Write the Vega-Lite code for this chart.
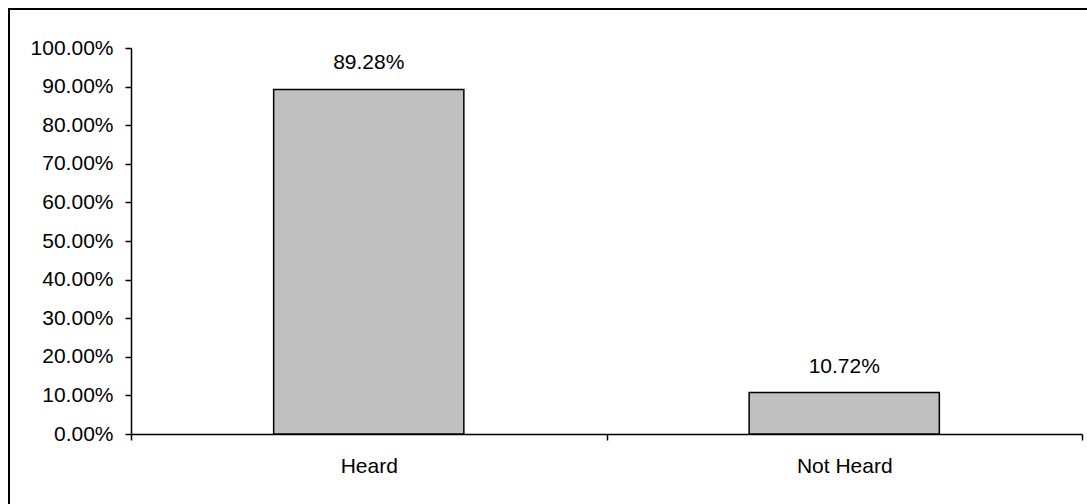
{
  "$schema": "https://vega.github.io/schema/vega-lite/v6.json",
  "autosize": "none",
  "width": 1078,
  "height": 495,
  "padding": {"left": 9, "top": 9, "right": 0, "bottom": 0},
  "background": "white",
  "config": {
    "view": {"stroke": "black", "strokeWidth": 2, "strokeDash": [1078, 1573, 495], "fill": "white"},
    "font": "Liberation Sans",
    "axis": {"grid": false, "domainColor": "black", "tickColor": "black", "labelColor": "black", "domainWidth": 1.5, "tickWidth": 1.5, "labelFont": "Liberation Sans", "labelFontSize": 21}
  },
  "data": {"values": [
    {"category": "Heard", "value": 0.8928},
    {"category": "Not Heard", "value": 0.1072}
  ]},
  "encoding": {
    "x": {"field": "category", "type": "nominal", "sort": null,
      "scale": {"range": [122, 1073], "paddingInner": 0, "paddingOuter": 0},
      "axis": {"title": null, "labelAngle": 0, "tickBand": "extent", "tickSize": 6, "labelPadding": 15, "offset": -70}},
    "y": {"field": "value", "type": "quantitative",
      "scale": {"domain": [0, 1], "range": [425, 39], "nice": false},
      "axis": {"title": null, "values": [0, 0.1, 0.2, 0.3, 0.4, 0.5, 0.6, 0.7, 0.8, 0.9, 1.0], "format": ".2%", "tickSize": 6, "labelPadding": 12, "offset": -122}}
  },
  "layer": [
    {"mark": {"type": "bar", "fill": "#C0C0C0", "stroke": "black", "strokeWidth": 1.5, "width": {"band": 0.4}}},
    {"mark": {"type": "text", "baseline": "alphabetic", "dy": -20, "fontSize": 21, "color": "black", "font": "Liberation Sans"},
     "encoding": {"text": {"field": "value", "type": "quantitative", "format": ".2%"}}}
  ]
}
